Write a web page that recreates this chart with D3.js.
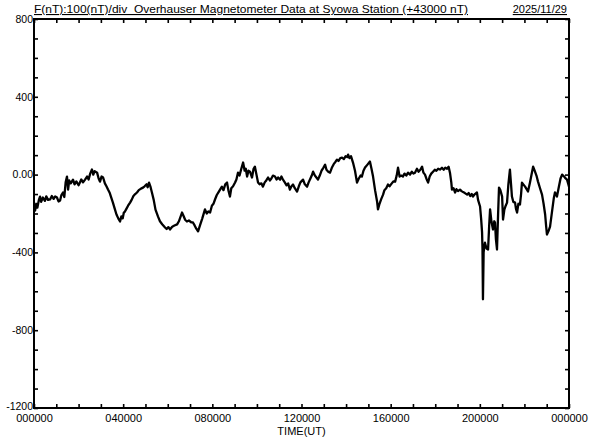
<!DOCTYPE html>
<html>
<head>
<meta charset="utf-8">
<script src="https://cdn.jsdelivr.net/npm/d3@7"></script>
<style>
  html, body { margin: 0; padding: 0; background: #fff; }
  svg { display: block; }
  text { font-family: "Liberation Sans", Arial, sans-serif; fill: #000; }
</style>
</head>
<body>
<svg id="chart" width="592" height="440"></svg>
<script>
// ---- data (hours UT, F minus 43000 nT) ----
const hours = [
  0.00,0.05,0.10,0.15,0.22,0.27,0.32,0.40,0.49,0.55,0.63,0.72,0.80,0.88,0.95,1.03,1.10,1.17,1.23,1.30,
  1.36,1.42,1.48,1.53,1.58,1.65,1.75,1.82,1.90,2.00,2.06,2.12,2.20,2.29,2.38,2.45,2.52,2.60,2.66,2.72,
  2.83,2.90,2.96,3.03,3.10,3.18,3.25,3.32,3.40,3.47,3.54,3.62,3.70,3.78,3.86,3.92,3.98,4.03,4.08,4.15,
  4.22,4.31,4.38,4.46,4.54,4.62,4.70,4.80,4.89,4.96,5.05,5.10,5.16,5.22,5.29,5.37,5.45,5.56,5.65,5.75,
  5.88,5.95,6.03,6.10,6.20,6.30,6.42,6.50,6.58,6.64,6.70,6.78,6.86,6.95,7.05,7.13,7.20,7.28,7.36,7.45,
  7.55,7.67,7.75,7.82,7.90,7.98,8.05,8.12,8.20,8.28,8.36,8.43,8.50,8.58,8.66,8.72,8.79,8.85,8.93,9.02,
  9.08,9.15,9.22,9.30,9.38,9.45,9.50,9.56,9.62,9.69,9.78,9.85,9.91,9.98,10.05,10.12,10.20,10.27,10.35,10.42,
  10.50,10.58,10.65,10.72,10.81,10.88,10.95,11.04,11.10,11.17,11.25,11.33,11.40,11.48,11.55,11.62,11.70,11.80,11.88,11.95,
  12.07,12.15,12.25,12.32,12.40,12.46,12.52,12.60,12.67,12.74,12.82,12.90,12.98,13.06,13.12,13.20,13.28,13.36,13.45,13.52,
  13.59,13.66,13.74,13.82,13.90,13.98,14.05,14.09,14.15,14.22,14.31,14.40,14.49,14.57,14.65,14.71,14.78,14.85,14.95,15.07,
  15.14,15.21,15.30,15.39,15.43,15.50,15.58,15.66,15.72,15.80,15.88,15.95,16.05,16.12,16.20,16.27,16.33,16.40,16.48,16.55,
  16.62,16.70,16.78,16.87,16.95,17.02,17.09,17.18,17.25,17.33,17.41,17.47,17.54,17.60,17.68,17.75,17.82,17.90,17.98,18.05,
  18.13,18.21,18.30,18.38,18.45,18.53,18.60,18.66,18.72,18.75,18.82,18.89,18.95,19.02,19.11,19.18,19.25,19.33,19.43,19.50,
  19.57,19.64,19.69,19.78,19.87,19.92,20.01,20.06,20.10,20.12,20.14,20.17,20.20,20.23,20.30,20.37,20.42,20.46,20.52,20.59,
  20.65,20.68,20.72,20.77,20.82,20.86,20.92,21.00,21.04,21.10,21.16,21.22,21.28,21.35,21.40,21.44,21.50,21.58,21.62,21.67,
  21.73,21.80,21.85,21.89,21.95,22.03,22.10,22.16,22.25,22.32,22.39,22.46,22.54,22.61,22.70,22.79,22.86,22.93,22.97,23.01,
  23.08,23.15,23.25,23.32,23.37,23.42,23.46,23.55,23.62,23.69,23.78,23.85,23.91,23.96,24.00
];
const fnt = [
  -165,-185,-150,-170,-130,-113,-140,-118,-135,-112,-130,-128,-110,-125,-112,-118,-138,-133,-105,-92,
  -115,-40,-10,-77,-30,-45,-26,-50,-35,-55,-41,-25,-40,-26,-10,-25,5,26,0,18,
  10,-20,-36,-10,-15,-45,-60,-77,-95,-120,-144,-175,-205,-225,-241,-215,-225,-195,-190,-175,
  -160,-144,-130,-110,-100,-92,-80,-72,-67,-60,-50,-65,-41,-60,-92,-130,-180,-215,-240,-255,
  -272,-280,-270,-282,-268,-262,-256,-240,-215,-195,-210,-232,-241,-236,-245,-246,-260,-278,-292,-260,
  -225,-179,-200,-190,-195,-160,-150,-128,-105,-90,-75,-62,-80,-50,-41,-80,-113,-70,-60,-41,
  -25,10,-5,30,62,20,30,-10,20,15,-15,30,41,0,-41,-50,-45,-62,-40,-30,
  -15,-30,-20,-5,-10,-25,-15,-26,-10,-26,-40,-55,-45,-77,-60,-51,-70,-87,-60,-40,
  -26,-50,-62,-40,-20,-5,15,-5,-15,-26,-5,20,35,51,25,15,10,35,55,65,
  77,70,85,87,80,95,90,103,85,95,62,20,-41,-20,-5,-10,20,36,50,67,
  30,-10,-80,-138,-179,-150,-125,-103,-80,-70,-51,-60,-45,-35,-36,-5,36,-10,-5,-10,
  5,-5,10,0,15,5,10,30,15,25,41,10,0,-20,-41,-10,5,15,25,20,
  30,26,35,25,36,30,40,10,-40,-77,-70,-92,-75,-85,-77,-85,-90,-95,-103,-95,
  -110,-100,-113,-100,-92,-130,-164,-230,-297,-385,-641,-400,-369,-350,-380,-385,-260,-179,-240,-282,
  -240,-246,-330,-385,-200,-67,-80,-113,-231,-180,-160,-144,-50,26,-50,-113,-140,-144,-175,-195,
  -150,-154,-100,-41,-50,-62,-75,-87,-40,0,41,20,-5,-36,-70,-103,-150,-205,-260,-308,
  -290,-267,-180,-120,-92,-100,-113,-60,-20,0,-10,-20,-26,-45,-62
];
const xTickHours = [0, 4, 8, 12, 16, 20, 24];
const xTickLabels = ["000000", "040000", "080000", "120000", "160000", "200000", "000000"];
const yTickValues = [-1200, -800, -400, 0, 400, 800];
const yTickLabels = ["-1200", "-800", "-400", "0.00", "400", "800"];
const titleText = "F(nT):100(nT)/div  Overhauser Magnetometer Data at Syowa Station (+43000 nT)";
const dateText = "2025/11/29";
const xAxisTitle = "TIME(UT)";

// ---- layout ----
const L = 34, R = 569, T = 19, B = 408;
const svg = d3.select("#chart");
const x = d3.scaleLinear().domain([0, 24]).range([L, R]);
const y = d3.scaleLinear().domain([-1200, 800]).range([B, T]);

const minorX = d3.range(0, 25, 1);
const minorY = d3.range(-1200, 801, 100);

// ticks (inward) – all four sides
const gBottom = svg.append("g").attr("transform", `translate(0,${B})`)
  .call(d3.axisBottom(x).tickValues(minorX).tickSize(-4).tickFormat(""));
const gTop = svg.append("g").attr("transform", `translate(0,${T})`)
  .call(d3.axisTop(x).tickValues(minorX).tickSize(-4).tickFormat(""));
const gLeft = svg.append("g").attr("transform", `translate(${L},0)`)
  .call(d3.axisLeft(y).tickValues(minorY).tickSize(-4).tickFormat(""));
const gRight = svg.append("g").attr("transform", `translate(${R},0)`)
  .call(d3.axisRight(y).tickValues(minorY).tickSize(-4).tickFormat(""));
[gBottom, gTop, gLeft, gRight].forEach(g => {
  g.select(".domain").remove();
  g.selectAll(".tick line").attr("stroke", "#000").attr("stroke-width", 1.6);
});

// labelled axes
const gXLab = svg.append("g").attr("transform", `translate(0,${B})`)
  .call(d3.axisBottom(x).tickValues(xTickHours).tickSize(0).tickPadding(6)
    .tickFormat((d, i) => xTickLabels[i]));
const gYLab = svg.append("g").attr("transform", `translate(${L},0)`)
  .call(d3.axisLeft(y).tickValues(yTickValues).tickSize(0).tickPadding(1)
    .tickFormat((d, i) => yTickLabels[i]));
[gXLab, gYLab].forEach(g => {
  g.select(".domain").remove();
  g.selectAll("text").style("font-family", '"Liberation Sans", Arial, sans-serif')
    .attr("fill", "#000");
});
gXLab.selectAll("text").style("font-size", "11px");
gYLab.selectAll("text").style("font-size", "10.5px");
// lift the lowest y label slightly, as in the reference
gYLab.selectAll(".tick").filter(d => d === -1200).select("text").attr("dy", "0.1em");

// data line
const line = d3.line().x((d, i) => x(hours[i])).y(d => y(d));
svg.append("path")
  .datum(fnt)
  .attr("d", line)
  .attr("fill", "none")
  .attr("stroke", "#000")
  .attr("stroke-width", 2.3)
  .attr("stroke-linejoin", "round");

// frame
svg.append("rect")
  .attr("x", L).attr("y", T).attr("width", R - L).attr("height", B - T)
  .attr("fill", "none").attr("stroke", "#000").attr("stroke-width", 2);

// titles
svg.append("text").attr("x", L).attr("y", 13)
  .style("font-size", "11px").style("text-decoration", "underline")
  .style("white-space", "pre")
  .attr("textLength", 434).attr("lengthAdjust", "spacingAndGlyphs")
  .text(titleText);
svg.append("text").attr("x", 567).attr("y", 13).attr("text-anchor", "end")
  .style("font-size", "11px").style("text-decoration", "underline")
  .text(dateText);
svg.append("text").attr("x", x(12)).attr("y", 435).attr("text-anchor", "middle")
  .style("font-size", "11px")
  .text(xAxisTitle);
</script>
</body>
</html>
